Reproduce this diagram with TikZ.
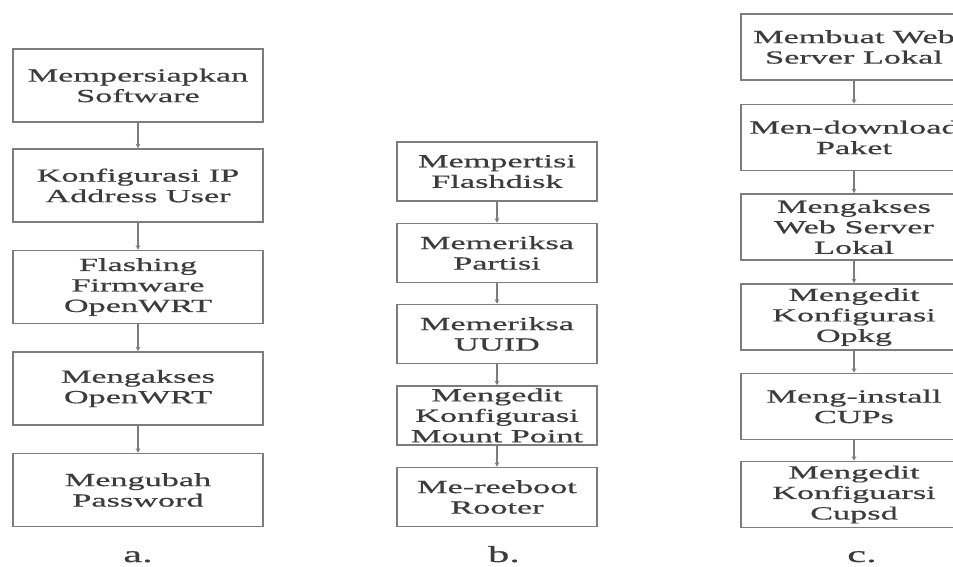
\documentclass[tikz,border=0pt]{standalone}
\usepackage{fontspec}
\usepackage{tikz}
\usetikzlibrary{arrows.meta}
\newfontfamily\flowfont[FakeStretch=1.85,FakeBold=0.6]{Liberation Serif}
\definecolor{boxgray}{RGB}{125,125,125}
\definecolor{txtgray}{RGB}{60,60,60}

\begin{document}
\begin{tikzpicture}[x=1pt,y=-1pt,
  stepbox/.style={draw=boxgray, line width=1.5pt, fill=white, inner sep=0pt,
    align=center, text=txtgray, font=\flowfont\fontsize{18.5}{20.5}\selectfont},
  colA/.style={stepbox, minimum width=250, minimum height=73},
  colB/.style={stepbox, minimum width=200, minimum height=59},
  colC/.style={stepbox, minimum width=226, minimum height=66},
  flow/.style={draw=boxgray, line width=1.2pt, -{Stealth[length=4.5pt,width=4.5pt]}},
  tag/.style={anchor=base, text=txtgray, font=\flowfont\fontsize{23}{26}\selectfont}]
\useasboundingbox (0,0) rectangle (953,567);
% a.
\node[colA] (a1) at (138,85.5) {Mempersiapkan\\Software};
\node[colA] (a2) at (138,185.5) {Konfigurasi IP\\Address User};
\node[colA] (a3) at (138,287) {Flashing\\Firmware\\OpenWRT};
\node[colA] (a4) at (138,388.5) {Mengakses\\OpenWRT};
\node[colA] (a5) at (138,490) {Mengubah\\Password};
\draw[flow] (a1) -- (a2);
\draw[flow] (a2) -- (a3);
\draw[flow] (a3) -- (a4);
\draw[flow] (a4) -- (a5);
\node[tag] (la) at (138,562) {a.};
% b.
\node[colB] (b1) at (497,171.5) {Mempertisi\\Flashdisk};
\node[colB] (b2) at (497,253) {Memeriksa\\Partisi};
\node[colB] (b3) at (497,334) {Memeriksa\\UUID};
\node[colB] (b4) at (497,415.5) {Mengedit\\Konfigurasi\\Mount Point};
\node[colB] (b5) at (497,497) {Me-reeboot\\Rooter};
\draw[flow] (b1) -- (b2);
\draw[flow] (b2) -- (b3);
\draw[flow] (b3) -- (b4);
\draw[flow] (b4) -- (b5);
\node[tag] (lb) at (504,562) {b.};
% c.
\node[colC] (c1) at (854,47) {Membuat Web\\Server Lokal};
\node[colC] (c2) at (854,137.5) {Men-download\\Paket};
\node[colC] (c3) at (854,227) {Mengakses\\Web Server\\Lokal};
\node[colC] (c4) at (854,317) {Mengedit\\Konfigurasi\\Opkg};
\node[colC] (c5) at (854,406.5) {Meng-install\\CUPs};
\node[colC] (c6) at (854,494.5) {Mengedit\\Konfiguarsi\\Cupsd};
\draw[flow] (c1) -- (c2);
\draw[flow] (c2) -- (c3);
\draw[flow] (c3) -- (c4);
\draw[flow] (c4) -- (c5);
\draw[flow] (c5) -- (c6);
\node[tag] (lc) at (862,562) {c.};
\end{tikzpicture}
\end{document}
